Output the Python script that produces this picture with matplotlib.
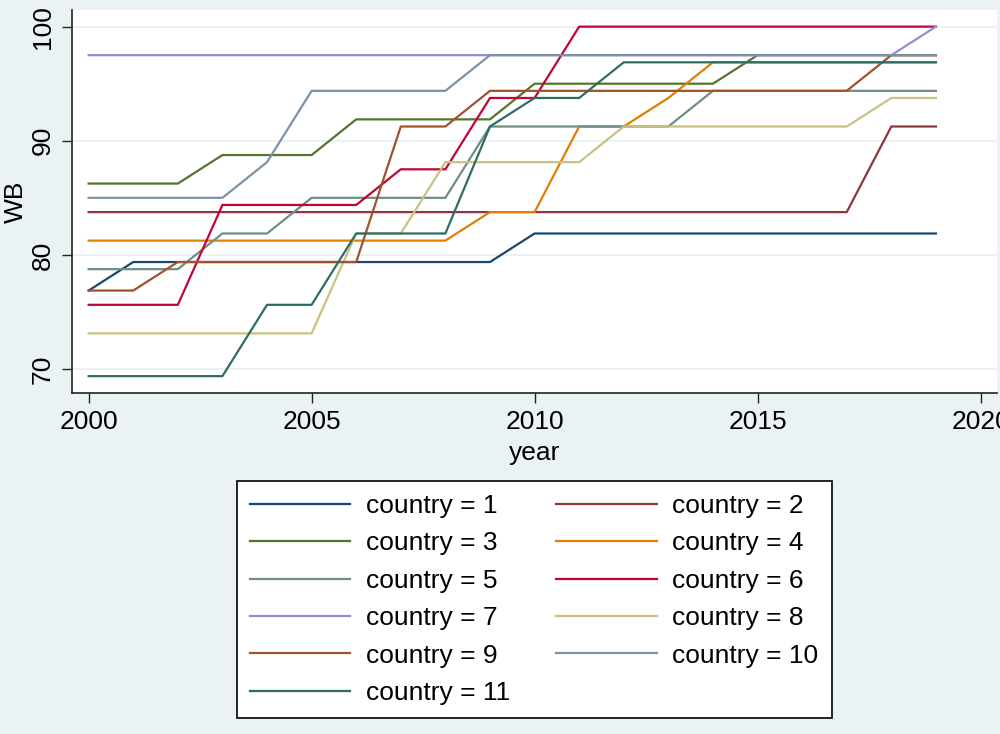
import numpy as np
import matplotlib.pyplot as plt
from matplotlib.lines import Line2D

plt.rcParams['font.family'] = ['Liberation Sans', 'DejaVu Sans']

years = list(range(2000, 2020))

wb = {
    1: [76.875, 79.375, 79.375, 79.375, 79.375, 79.375, 79.375, 79.375, 79.375, 79.375,
        81.875, 81.875, 81.875, 81.875, 81.875, 81.875, 81.875, 81.875, 81.875, 81.875],
    2: [83.75] * 18 + [91.25, 91.25],
    3: [86.25, 86.25, 86.25, 88.75, 88.75, 88.75, 91.875, 91.875, 91.875, 91.875,
        95, 95, 95, 95, 95, 97.5, 97.5, 97.5, 97.5, 97.5],
    4: [81.25] * 9 + [83.75, 83.75, 91.25, 91.25, 93.75,
                      96.875, 96.875, 96.875, 96.875, 96.875, 96.875],
    5: [78.75, 78.75, 78.75, 81.875, 81.875, 85, 85, 85, 85, 91.25,
        91.25, 91.25, 91.25, 91.25, 94.375, 94.375, 94.375, 94.375, 94.375, 94.375],
    6: [75.625, 75.625, 75.625, 84.375, 84.375, 84.375, 84.375, 87.5, 87.5, 93.75,
        93.75, 100, 100, 100, 100, 100, 100, 100, 100, 100],
    7: [97.5] * 19 + [100],
    8: [73.125] * 6 + [81.875, 81.875, 88.125, 88.125, 88.125, 88.125,
                       91.25, 91.25, 91.25, 91.25, 91.25, 91.25, 93.75, 93.75],
    9: [76.875, 76.875, 79.375, 79.375, 79.375, 79.375, 79.375, 91.25, 91.25, 94.375,
        94.375, 94.375, 94.375, 94.375, 94.375, 94.375, 94.375, 94.375, 97.5, 97.5],
    10: [85, 85, 85, 85, 88.125, 94.375, 94.375, 94.375, 94.375, 97.5,
         97.5, 97.5, 97.5, 97.5, 97.5, 97.5, 97.5, 97.5, 97.5, 97.5],
    11: [69.375, 69.375, 69.375, 69.375, 75.625, 75.625, 81.875, 81.875, 81.875, 91.25,
         93.75, 93.75, 96.875, 96.875, 96.875, 96.875, 96.875, 96.875, 96.875, 96.875],
}

# Stata s2color palette
colors = {1: '#1a476f', 2: '#90353b', 3: '#55752f', 4: '#e37e00', 5: '#6e8e84',
          6: '#c10534', 7: '#938dd2', 8: '#cac27e', 9: '#a0522d', 10: '#7b92a8',
          11: '#2d6d66'}

bg = '#eaf2f3'
fig = plt.figure(figsize=(10, 7.34), dpi=100, facecolor=bg)
ax = fig.add_axes([0.0717, 0.4646, 0.9253, 0.5218])
ax.set_facecolor('white')

handles = {}
for c, vals in wb.items():
    ln, = ax.plot(years, vals, color=colors[c], lw=1.6, label=f'country = {c}')
    handles[c] = ln

ax.set_xlim(1999.62, 2020.37)
ax.set_ylim(67.9, 101.46)
ax.set_xticks([2000, 2005, 2010, 2015, 2020])
ax.set_yticks([70, 80, 90, 100])
ax.grid(axis='y', color=bg, lw=1.5)
ax.set_axisbelow(True)

for s in ['top', 'right']:
    ax.spines[s].set_visible(False)
for s in ['left', 'bottom']:
    ax.spines[s].set_color('#222222')
    ax.spines[s].set_linewidth(1.2)

ax.tick_params(axis='both', direction='out', length=7, width=1, color='#222222',
               labelsize=19, pad=5)
plt.setp(ax.get_yticklabels(), rotation=90, va='center')
ax.set_xlabel('year', fontsize=19, labelpad=5)
ax.set_ylabel('WB', fontsize=19, labelpad=2)

order = [1, 3, 5, 7, 9, 11, 2, 4, 6, 8, 10]
leg = fig.legend([handles[c] for c in order], [f'country = {c}' for c in order],
                 ncol=2, loc='upper left', bbox_to_anchor=(0.2367, 1 - 480.7 / 734),
                 borderaxespad=0, fontsize=19, handlelength=3.8, handletextpad=0.6,
                 columnspacing=1.75, labelspacing=0.51, borderpad=0.5,
                 fancybox=False, framealpha=1, edgecolor='black')
leg.get_frame().set_linewidth(1.2)

fig.savefig('out.png', dpi=100, facecolor=bg)
